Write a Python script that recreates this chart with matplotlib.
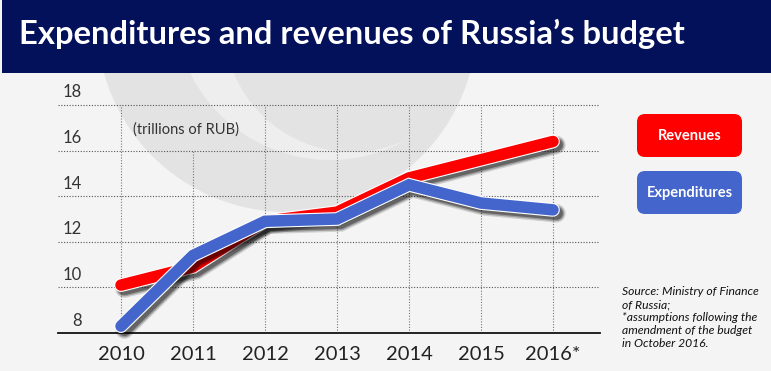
"""Expenditures and revenues of Russia's budget, 2010-2016."""

import matplotlib
matplotlib.use("Agg")
import matplotlib.pyplot as plt
import matplotlib.patheffects as pe
from matplotlib.patches import Circle, Rectangle, FancyBboxPatch
from matplotlib.transforms import ScaledTranslation

plt.rcParams["font.family"] = ["Lato", "DejaVu Sans"]

years = ["2010", "2011", "2012", "2013", "2014", "2015", "2016*"]
revenues = [10.1, 10.9, 12.9, 13.3, 14.8, 15.6, 16.4]      # red line
expenditures = [8.3, 11.4, 12.9, 13.0, 14.5, 13.7, 13.4]   # blue line
y_ticks = [8, 10, 12, 14, 16, 18]
grid_top = [18, 16, 18, 18, 18, 18, 18]
legend_labels = ["Revenues", "Expenditures"]
source_lines = [
    "Source: Ministry of Finance",
    "of Russia;",
    "*assumptions following the",
    "amendment of the budget",
    "in October 2016.",
]

RED = "#ff0000"
BLUE = "#4466cc"
NAVY = "#02115a"
BG = "#f4f4f4"

W, H = 771, 371
fig = plt.figure(figsize=(W / 100, H / 100), dpi=100, facecolor=BG)

# background layer in pixel coords (y down)
bg = fig.add_axes([0, 0, 1, 1])
bg.set_xlim(0, W)
bg.set_ylim(H, 0)
bg.axis("off")
bg.add_patch(Circle((287, 22), 190, color="#e3e3e3", lw=0))
bg.add_patch(Circle((330, 4), 156, color="#eeeeee", lw=0))
bg.add_patch(Circle((352, 24), 128, color="#e3e3e3", lw=0))
bg.add_patch(Rectangle((1.5, 0), W, 73, color=NAVY, lw=0))
bg.text(19, 44, "Expenditures and revenues of Russia\u2019s budget", color="white",
        fontsize=23.6, fontweight="bold", va="baseline", ha="left")

# legend boxes
for i, (lab, col) in enumerate(zip(legend_labels, [RED, BLUE])):
    y0 = 114 + i * 57
    bg.add_patch(FancyBboxPatch((645, y0 + 8), 89, 27, boxstyle="round,pad=8",
                                fc=col, ec="none"))
    bg.text(689.5, y0 + 21.5, lab, color="white", fontsize=10.5, fontweight="bold",
            ha="center", va="center")

for i, line in enumerate(source_lines):
    bg.text(622, 295 + 13 * i, line, fontsize=8.7, style="italic", color="#111111",
            ha="left", va="baseline")

# main chart
x = list(range(len(years)))
px_per_unit = 22.8
ax_top = 73
ax = fig.add_axes([58 / W, (H - 333) / H, 542 / W, (333 - ax_top) / H])
ax.patch.set_alpha(0)
ax.set_xlim(-63 / 72, (600 - 121) / 72)
ax.set_ylim(8, 8 + (333 - ax_top) / px_per_unit)

for s in ["top", "right", "left"]:
    ax.spines[s].set_visible(False)
ax.spines["bottom"].set_color("#111111")
ax.spines["bottom"].set_linewidth(1.3)

ax.set_yticks(y_ticks)
ax.set_yticklabels([str(t) for t in y_ticks])
ax.yaxis.grid(True, linestyle=(0, (1, 1.5)), color="#555555", linewidth=0.8)
ax.vlines(x, 8, grid_top, linestyles=(0, (1, 1.5)), colors="#777777", linewidth=0.8)
ax.tick_params(axis="y", length=0, pad=-17, labelsize=12, labelcolor="#333333")
for lbl in ax.get_yticklabels():
    lbl.set_horizontalalignment("right")
    lbl.set_transform(lbl.get_transform() + ScaledTranslation(0, 0.14, fig.dpi_scale_trans))

ax.set_xticks(x)
ax.set_xticklabels(years)
ax.tick_params(axis="x", length=0, pad=9, labelsize=14.5, labelcolor="#222222")

ax.text((133 - 121) / 72, 8 + (333 - 130) / px_per_unit, "(trillions of RUB)",
        fontsize=10.5, color="#333333", va="center", ha="left")

# thick lines with white rim and soft drop shadow
lw = 8.3
effects = [
    pe.SimpleLineShadow(offset=(2.5, -2.5), shadow_color="#000000", alpha=0.15, linewidth=lw + 5),
    pe.SimpleLineShadow(offset=(2.5, -2.5), shadow_color="#000000", alpha=0.25, linewidth=lw + 3),
    pe.SimpleLineShadow(offset=(2.5, -2.5), shadow_color="#000000", alpha=0.35, linewidth=lw + 1),
    pe.Stroke(linewidth=lw + 1.6, foreground="white"),
    pe.Normal(),
]
ax.plot(x, revenues, color=RED, lw=lw, solid_capstyle="round", solid_joinstyle="miter",
        path_effects=effects, zorder=3, clip_on=False)
ax.plot(x, expenditures, color=BLUE, lw=lw, solid_capstyle="round", solid_joinstyle="miter",
        path_effects=effects, zorder=4, clip_on=False)

fig.savefig("out.png", dpi=100, facecolor=BG)
